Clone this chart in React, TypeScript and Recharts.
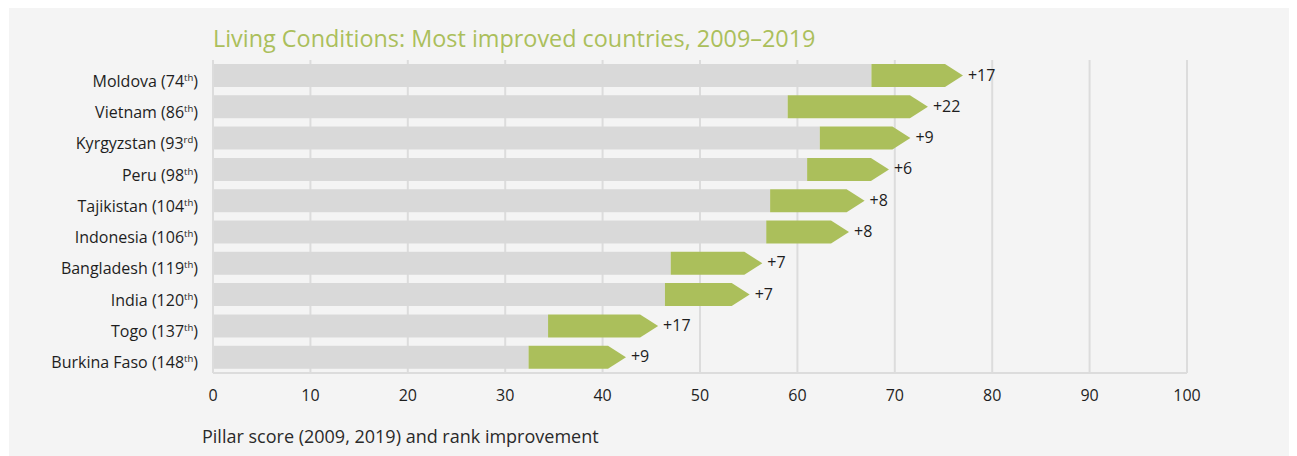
import React from 'react';
import { BarChart, Bar, XAxis, YAxis, CartesianGrid, LabelList } from 'recharts';

const countries = ['Moldova', 'Vietnam', 'Kyrgyzstan', 'Peru', 'Tajikistan', 'Indonesia', 'Bangladesh', 'India', 'Togo', 'Burkina Faso'];
const ranks2019 = [74, 86, 93, 98, 104, 106, 119, 120, 137, 148];
const rankSuffixes = ['th', 'th', 'rd', 'th', 'th', 'th', 'th', 'th', 'th', 'th'];
const score2009 = [67.6, 59.0, 62.3, 61.0, 57.2, 56.8, 47.0, 46.4, 34.4, 32.4];
const score2019 = [77.0, 73.4, 71.6, 69.4, 66.9, 65.3, 56.4, 55.1, 45.7, 42.4];
const rankImprovement = [17, 22, 9, 6, 8, 8, 7, 7, 17, 9];
const xTicks = [0, 10, 20, 30, 40, 50, 60, 70, 80, 90, 100];

const titleText = 'Living Conditions: Most improved countries, 2009–2019';
const axisTitle = 'Pillar score (2009, 2019) and rank improvement';

const data = countries.map((c, i) => ({
  name: c,
  rank: ranks2019[i],
  suffix: rankSuffixes[i],
  base: score2009[i],
  gain: +(score2019[i] - score2009[i]).toFixed(2),
  improvement: rankImprovement[i],
}));

const FONT = '"Open Sans", "Noto Sans", sans-serif';
const GREEN = '#abbf5b';
const GREY_BAR = '#d9d9d9';
const GRID = '#dcdcdc';
const TEXT = '#1e1e1e';

const ArrowShape = (props: any) => {
  const { x, y, width, height } = props;
  const head = Math.min(18, width);
  const body = x + width - head;
  const d = `M${x},${y} L${body},${y} L${x + width},${y + height / 2} L${body},${y + height} L${x},${y + height} Z`;
  return <path d={d} fill={GREEN} />;
};

const CategoryTick = (props: any) => {
  const { x, y, payload } = props;
  const row = data.find((d) => d.name === payload.value);
  if (!row) return null;
  return (
    <text x={x - 7} y={y + 11} textAnchor="end" fontFamily={FONT} fontSize={16} fill={TEXT}>
      <tspan>{`${row.name} (${row.rank}`}</tspan>
      <tspan fontSize={9.5} dy={-6}>{row.suffix}</tspan>
      <tspan dy={6}>)</tspan>
    </text>
  );
};

const ImprovementLabel = (props: any) => {
  const { x, y, width, height, value } = props;
  return (
    <text x={x + width + 5} y={y + height / 2 + 5} fontFamily={FONT} fontSize={16} fill={TEXT}>
      {`+${value}`}
    </text>
  );
};

export default function App() {
  return (
    <div style={{ position: 'relative', width: 1288, height: 448, marginLeft: 1, background: '#f4f4f4' }}>
      <BarChart
        width={1288}
        height={448}
        data={data}
        layout="vertical"
        margin={{ top: 52, right: 110, bottom: 53, left: 0 }}
        barSize={23}
      >
        <CartesianGrid horizontal={false} vertical={true} stroke={GRID} strokeWidth={2} />
        <XAxis
          type="number"
          domain={[0, 100]}
          ticks={xTicks}
          height={30}
          tickLine={false}
          tickMargin={11}
          axisLine={{ stroke: GRID, strokeWidth: 2 }}
          tick={{ fontFamily: FONT, fontSize: 16, fill: TEXT }}
        />
        <YAxis
          type="category"
          dataKey="name"
          width={204}
          tickLine={false}
          axisLine={{ stroke: GRID, strokeWidth: 2 }}
          tick={<CategoryTick />}
          interval={0}
        />
        <Bar dataKey="base" stackId="s" fill={GREY_BAR} isAnimationActive={false} />
        <Bar dataKey="gain" stackId="s" fill={GREEN} shape={<ArrowShape />} isAnimationActive={false}>
          <LabelList dataKey="improvement" content={<ImprovementLabel />} />
        </Bar>
      </BarChart>
      <svg
        width={1288}
        height={448}
        style={{ position: 'absolute', left: 0, top: 0, pointerEvents: 'none' }}
      >
        <text x={204} y={39} fontFamily={FONT} fontSize={23.4} fill={GREEN}>
          {titleText}
        </text>
        <text x={193} y={435} fontFamily={FONT} fontSize={18} fill="#2a2a2a">
          {axisTitle}
        </text>
      </svg>
    </div>
  );
}
